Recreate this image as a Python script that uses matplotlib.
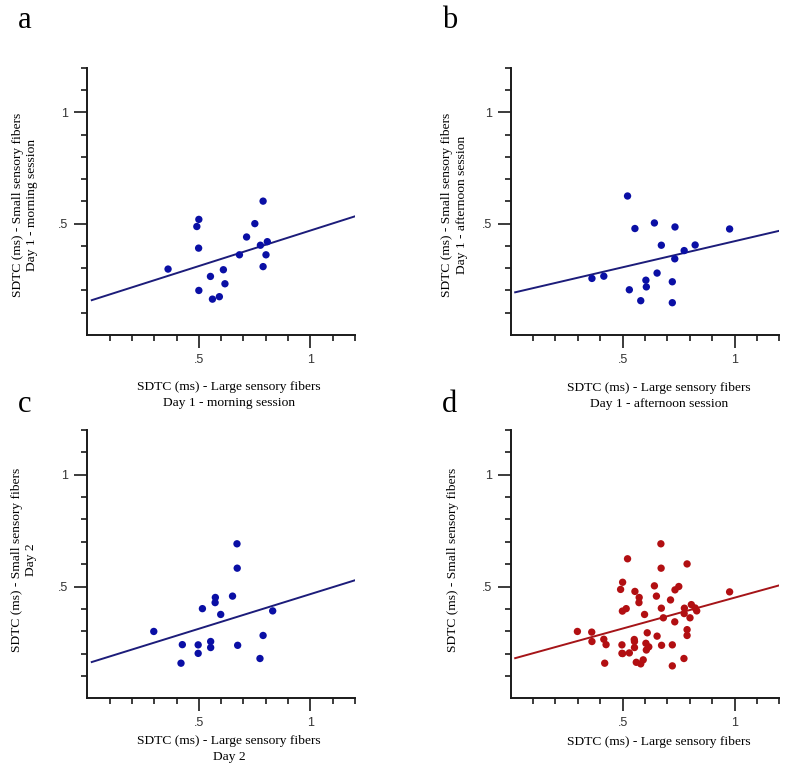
import matplotlib
matplotlib.use("Agg")
import matplotlib.pyplot as plt
import numpy as np
from matplotlib.ticker import FixedLocator, FixedFormatter

# ---- data ----
a_x = [0.362, 0.500, 0.491, 0.499, 0.500, 0.552, 0.561, 0.592, 0.610, 0.617,
       0.682, 0.714, 0.751, 0.788, 0.776, 0.807, 0.801, 0.788]
a_y = [0.296, 0.519, 0.487, 0.390, 0.200, 0.263, 0.161, 0.172, 0.293, 0.230,
       0.360, 0.440, 0.500, 0.601, 0.403, 0.419, 0.360, 0.307]

b_x = [0.363, 0.416, 0.522, 0.555, 0.530, 0.581, 0.604, 0.606, 0.642, 0.654,
       0.673, 0.722, 0.722, 0.734, 0.733, 0.775, 0.824, 0.978]
b_y = [0.254, 0.264, 0.624, 0.478, 0.203, 0.154, 0.246, 0.216, 0.503, 0.278,
       0.403, 0.239, 0.145, 0.485, 0.342, 0.379, 0.404, 0.476]

c_x = [0.298, 0.426, 0.420, 0.497, 0.497, 0.516, 0.553, 0.553, 0.574, 0.573,
       0.598, 0.651, 0.671, 0.672, 0.674, 0.774, 0.788, 0.831]
c_y = [0.299, 0.240, 0.157, 0.239, 0.201, 0.401, 0.254, 0.227, 0.451, 0.428,
       0.375, 0.457, 0.691, 0.582, 0.237, 0.178, 0.281, 0.391]

# pooled data (panel d) = all three sessions
d_x = a_x + b_x + c_x
d_y = a_y + b_y + c_y

# regression lines (intercept, slope)
fit_a = (0.150, 0.319)
fit_b = (0.187, 0.234)
fit_c = (0.156, 0.310)
fit_d = (0.174, 0.276)

letters = ["a", "b", "c", "d"]
xlabels = ["SDTC (ms) - Large sensory fibers\nDay 1 - morning session",
           "SDTC (ms) - Large sensory fibers\nDay 1 - afternoon session",
           "SDTC (ms) - Large sensory fibers\nDay 2",
           "SDTC (ms) - Large sensory fibers"]
ylabels = ["SDTC (ms) - Small sensory fibers\nDay 1 - morning session",
           "SDTC (ms) - Small sensory fibers\nDay 1 - afternoon session",
           "SDTC (ms) - Small sensory fibers\nDay 2",
           "SDTC (ms) - Small sensory fibers"]
major_ticks = [0.5, 1.0]
major_labels = [".5", "1"]
minor_ticks = [0.1, 0.2, 0.3, 0.4, 0.6, 0.7, 0.8, 0.9, 1.1, 1.2]

BLUE = "#0A0FA5"
BLUE_LINE = "#1C1C7A"
RED = "#B20F12"
RED_LINE = "#A51418"

W, H = 787, 764
fig = plt.figure(figsize=(W / 100, H / 100), dpi=100)
serif = ["Liberation Serif", "DejaVu Serif"]
sans = ["Liberation Sans", "DejaVu Sans"]

# panel geometry in pixels: left, top, right, bottom
panels = [
    (87.3, 67.7, 355.0, 335.0),
    (510.7, 67.7, 779.3, 335.0),
    (87.3, 430.0, 355.0, 698.3),
    (510.7, 430.0, 779.3, 698.3),
]
data = [(a_x, a_y, fit_a, BLUE, BLUE_LINE),
        (b_x, b_y, fit_b, BLUE, BLUE_LINE),
        (c_x, c_y, fit_c, BLUE, BLUE_LINE),
        (d_x, d_y, fit_d, RED, RED_LINE)]
letter_pos = [(25, 20), (450, 20), (25, 405), (450, 405)]
xlab_pos = [(229, 381), (659, 382), (229, 735), (659, 736)]
ylab_pos = [(25, 205), (454.5, 205), (24, 560), (453, 560)]

for i, ((l, t, r, b), (xs, ys, fit, col, lcol)) in enumerate(zip(panels, data)):
    ax = fig.add_axes([l / W, 1 - b / H, (r - l) / W, (b - t) / H])
    ax.set_xlim(0, 1.2)
    ax.set_ylim(0, 1.2)
    ax.scatter(xs, ys, s=28, color=col, edgecolors="none", zorder=3)
    x0, x1 = 0.02, 1.2
    icpt, slope = fit
    ax.plot([x0, x1], [icpt + slope * x0, icpt + slope * x1], color=lcol, lw=1.4, zorder=2)
    for side in ("top", "right"):
        ax.spines[side].set_visible(False)
    for side in ("left", "bottom"):
        ax.spines[side].set_linewidth(1.4)
        ax.spines[side].set_color("#1a1a1a")
    for axis in (ax.xaxis, ax.yaxis):
        axis.set_major_locator(FixedLocator(major_ticks))
        axis.set_major_formatter(FixedFormatter(major_labels))
        axis.set_minor_locator(FixedLocator(minor_ticks))
    ax.tick_params(which="major", direction="out", length=9.5, width=1.2,
                   color="#1a1a1a", pad=4, labelsize=9, labelcolor="#333333")
    ax.tick_params(which="minor", direction="out", length=4, width=1.2, color="#1a1a1a")
    for lab in ax.get_xticklabels() + ax.get_yticklabels():
        lab.set_fontfamily(sans)

    fig.text(letter_pos[i][0] / W, 1 - letter_pos[i][1] / H, letters[i],
             fontsize=22, family=serif, ha="center", va="center")
    fig.text(xlab_pos[i][0] / W, 1 - xlab_pos[i][1] / H, xlabels[i],
             fontsize=9.7, family=serif, ha="center", va="top", linespacing=1.4)
    fig.text(ylab_pos[i][0] / W, 1 - ylab_pos[i][1] / H, ylabels[i],
             fontsize=9.7, family=serif, ha="center", va="center",
             rotation=90, linespacing=1.25, multialignment="center")

fig.savefig("out.png", dpi=100)
